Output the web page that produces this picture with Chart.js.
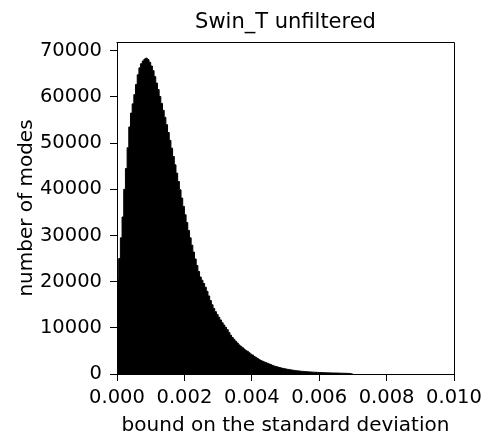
<!DOCTYPE html>
<html>
<head>
<meta charset="utf-8">
<script src="https://cdn.jsdelivr.net/npm/chart.js@4/dist/chart.umd.min.js"></script>
<style>
  html, body { margin: 0; padding: 0; background: #fff; }
  #wrap { width: 483px; height: 441px; }
</style>
</head>
<body>
<div id="wrap"><canvas id="chart" width="483" height="441"></canvas></div>
<script>
// histogram, bins of width 0.00005 starting at 0
var binWidth = 0.00005;
var counts = [
    16000, 20500, 25000, 29500, 34000, 40000, 44500, 49000, 53500, 56500,
    58500, 60500, 62700, 64800, 66300, 67200, 67800, 68200, 68400, 68100,
    67500, 66700, 65700, 64400, 63000, 61600, 60100, 58600, 57100, 55600,
    54000, 52300, 50600, 48900, 47100, 45300, 43500, 41700, 39900, 38100,
    36300, 34500, 32800, 31100, 29500, 27900, 26400, 24900, 23500, 22200,
    21000, 20300, 19600, 18800, 17900, 16900, 15900, 15000, 14200, 13500,
    12900, 12300, 11700, 11100, 10600, 10100, 9600, 9000, 8400, 7900,
    7500, 7100, 6700, 6300, 6000, 5700, 5400, 5100, 4900, 4600,
    4300, 4100, 3800, 3600, 3350, 3100, 2900, 2750, 2600, 2450,
    2300, 2150, 2000, 1850, 1700, 1600, 1500, 1400, 1300, 1220,
    1140, 1070, 1000, 940, 880, 820, 770, 720, 670, 630,
    590, 560, 530, 500, 470, 445, 420, 400, 380, 360,
    340, 320, 305, 290, 275, 260, 250, 240, 230, 220,
    210, 200, 190, 180, 170, 160, 150, 140, 120, 90
];
var xTicks = [0, 0.002, 0.004, 0.006, 0.008, 0.010];
var yTicks = [0, 10000, 20000, 30000, 40000, 50000, 60000, 70000];
var titleText = 'Swin_T unfiltered';

// step outline: each bin starts at its left edge, closed at the last edge
var points = counts.map(function (c, i) {
    return { x: i * binWidth, y: c };
});
points.push({ x: counts.length * binWidth, y: 0 });

var font = 'DejaVu Sans';

// matplotlib style box (top and right spines) + title centred over the axes
var frame = {
    id: 'frame',
    afterDraw: function (chart) {
        var a = chart.chartArea, ctx = chart.ctx;
        ctx.save();
        ctx.strokeStyle = '#000';
        ctx.lineWidth = 1;
        ctx.beginPath();
        ctx.moveTo(Math.round(a.left) - 0.5, Math.round(a.top) + 0.5);
        ctx.lineTo(Math.round(a.right) + 0.5, Math.round(a.top) + 0.5);
        ctx.lineTo(Math.round(a.right) + 0.5, Math.round(a.bottom) + 0.5);
        ctx.stroke();
        ctx.fillStyle = '#000';
        ctx.font = '21px "' + font + '"';
        ctx.textAlign = 'center';
        ctx.textBaseline = 'alphabetic';
        ctx.fillText(titleText, (a.left + a.right) / 2, a.top - 14);
        ctx.restore();
    }
};

var ctx = document.getElementById('chart').getContext('2d');
var myChart = new Chart(ctx, {
    type: 'line',
    data: {
        datasets: [{
            label: 'modes',
            data: points,
            stepped: 'after',
            fill: 'origin',
            backgroundColor: '#000',
            borderColor: '#000',
            borderWidth: 1,
            pointRadius: 0
        }]
    },
    options: {
        responsive: false,
        animation: false,
        events: [],
        layout: { padding: { left: 0, right: 29, top: 42, bottom: 0 } },
        plugins: {
            legend: { display: false },
            tooltip: { enabled: false },
            title: { display: false }
        },
        scales: {
            x: {
                type: 'linear',
                min: 0,
                max: 0.01,
                afterFit: function (s) {
                    s.height = 67;
                    s.paddingLeft = 0;
                    s.paddingRight = 0;
                },
                afterBuildTicks: function (s) {
                    s.ticks = xTicks.map(function (v) { return { value: v }; });
                },
                grid: { drawOnChartArea: false, drawTicks: true, tickLength: 7, tickColor: '#000' },
                border: { display: true, color: '#000', width: 1 },
                ticks: {
                    color: '#000',
                    padding: 5,
                    maxRotation: 0,
                    font: { family: font, size: 19.5 },
                    callback: function (v) { return v.toFixed(3); }
                },
                title: {
                    display: true,
                    text: 'bound on the standard deviation',
                    color: '#000',
                    font: { family: font, size: 20 },
                    padding: { top: 0, bottom: 3 }
                }
            },
            y: {
                min: 0,
                max: 71900,
                afterFit: function (s) {
                    s.width = 117;
                    s.paddingTop = 0;
                    s.paddingBottom = 0;
                },
                afterBuildTicks: function (s) {
                    s.ticks = yTicks.map(function (v) { return { value: v }; });
                },
                grid: { drawOnChartArea: false, drawTicks: true, tickLength: 7, tickColor: '#000' },
                border: { display: true, color: '#000', width: 1 },
                ticks: {
                    color: '#000',
                    padding: 8,
                    font: { family: font, size: 19.5 },
                    callback: function (v) { return String(v); }
                },
                title: {
                    display: true,
                    text: 'number of modes',
                    color: '#000',
                    font: { family: font, size: 20 },
                    padding: { top: 15, bottom: 0 }
                }
            }
        }
    },
    plugins: [frame]
});
</script>
</body>
</html>
